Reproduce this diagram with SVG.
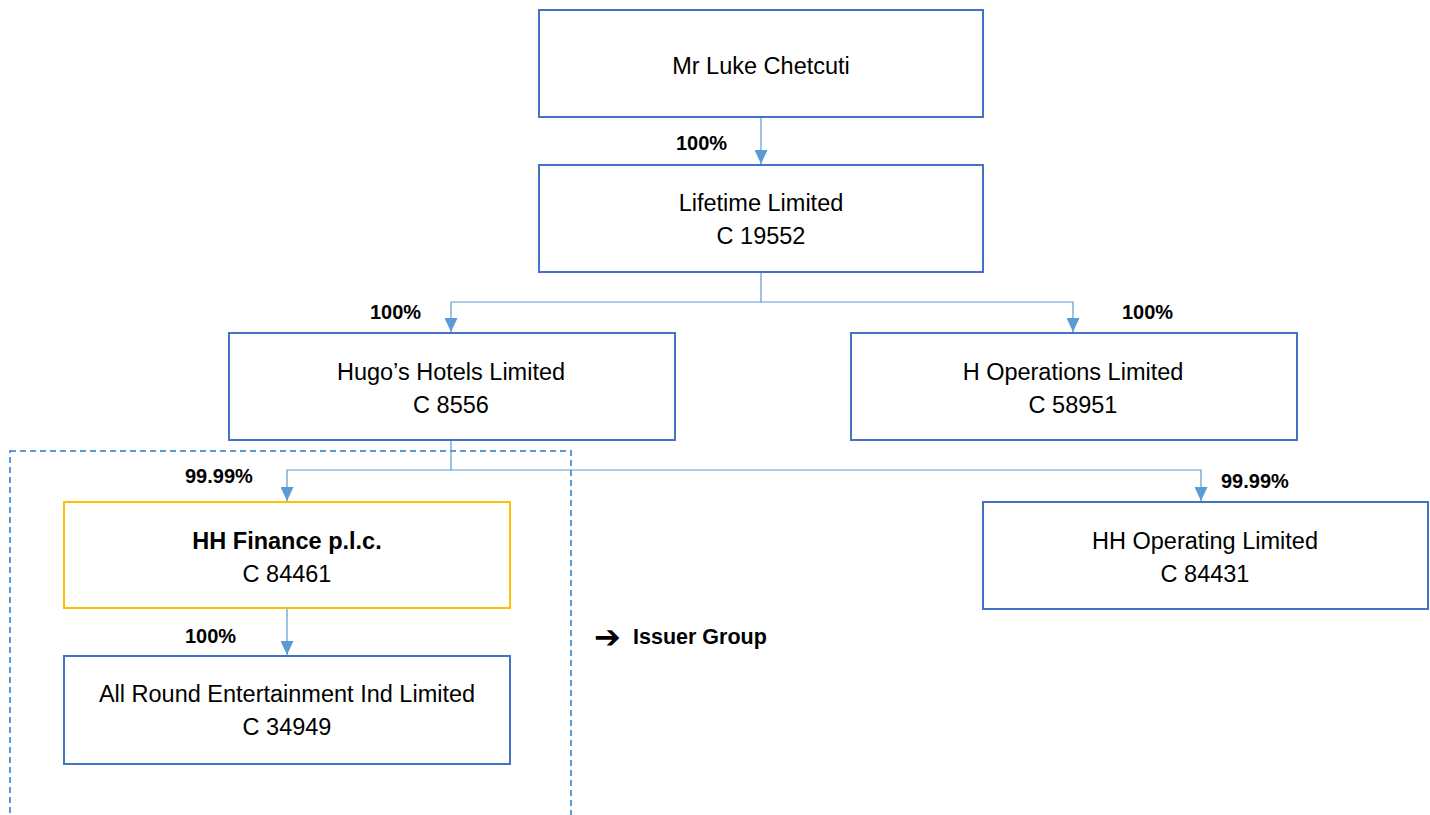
<svg xmlns="http://www.w3.org/2000/svg" width="1430" height="815" viewBox="0 0 1430 815">
<style>
.box{fill:#fff;stroke:#4472C4;stroke-width:2}
.gold{fill:#fff;stroke:#FFC000;stroke-width:2}
.t{font-family:"Liberation Sans",Arial,sans-serif;font-size:23.5px;fill:#000;text-anchor:middle}
.b{font-weight:bold}
.lbl{font-family:"Liberation Sans",Arial,sans-serif;font-size:20px;font-weight:bold;fill:#000}
.c{fill:none;stroke:#5B9BD5;stroke-width:1.2}
</style>
<defs>
<marker id="ah" viewBox="0 0 10 10" refX="10" refY="5" markerWidth="14" markerHeight="13" markerUnits="userSpaceOnUse" orient="auto" preserveAspectRatio="none">
<path d="M0,0 L10,5 L0,10 Z" fill="#5B9BD5"/>
</marker>
</defs>
<rect x="10" y="451" width="561" height="380" fill="none" stroke="#5B9BD5" stroke-width="2" stroke-dasharray="6,4"/>
<g id="connectors">
<path class="c" d="M761,117 V164" marker-end="url(#ah)"/>
<path class="c" d="M761,272 V302 H451 V332" marker-end="url(#ah)"/>
<path class="c" d="M761,302 H1073 V332" marker-end="url(#ah)"/>
<path class="c" d="M451,440 V470 H287 V501" marker-end="url(#ah)"/>
<path class="c" d="M451,470 H1201 V501" marker-end="url(#ah)"/>
<path class="c" d="M287,608 V655" marker-end="url(#ah)"/>
</g>
<g id="n-luke"><rect class="box" x="539" y="10" width="444" height="107"/><text class="t" x="761" y="74">Mr Luke Chetcuti</text></g>
<g id="n-lifetime"><rect class="box" x="539" y="165" width="444" height="107"/><text class="t" x="761" y="211">Lifetime Limited</text><text class="t" x="761" y="244">C 19552</text></g>
<g id="n-hugos"><rect class="box" x="229" y="333" width="446" height="107"/><text class="t" x="451" y="380">Hugo’s Hotels Limited</text><text class="t" x="451" y="413">C 8556</text></g>
<g id="n-hops"><rect class="box" x="851" y="333" width="446" height="107"/><text class="t" x="1073" y="380">H Operations Limited</text><text class="t" x="1073" y="413">C 58951</text></g>
<g id="n-hhfin"><rect class="gold" x="64" y="502" width="446" height="106"/><text class="t b" x="287" y="549">HH Finance p.l.c.</text><text class="t" x="287" y="582">C 84461</text></g>
<g id="n-allround"><rect class="box" x="64" y="656" width="446" height="108"/><text class="t" x="287" y="702">All Round Entertainment Ind Limited</text><text class="t" x="287" y="735">C 34949</text></g>
<g id="n-hhop"><rect class="box" x="983" y="502" width="445" height="107"/><text class="t" x="1205" y="549">HH Operating Limited</text><text class="t" x="1205" y="582">C 84431</text></g>
<g id="labels">
<text class="lbl" x="676" y="150">100%</text>
<text class="lbl" x="370" y="319">100%</text>
<text class="lbl" x="1122" y="319">100%</text>
<text class="lbl" x="185" y="483">99.99%</text>
<text class="lbl" x="1221" y="488">99.99%</text>
<text class="lbl" x="185" y="643">100%</text>
</g>
<g id="legend">
<text x="594" y="648" font-family="DejaVu Sans,sans-serif" font-size="32" font-weight="bold" fill="#000">➔</text>
<text x="633" y="644" font-family="Liberation Sans,Arial,sans-serif" font-size="21.5" font-weight="bold" fill="#000">Issuer Group</text>
</g>
</svg>
